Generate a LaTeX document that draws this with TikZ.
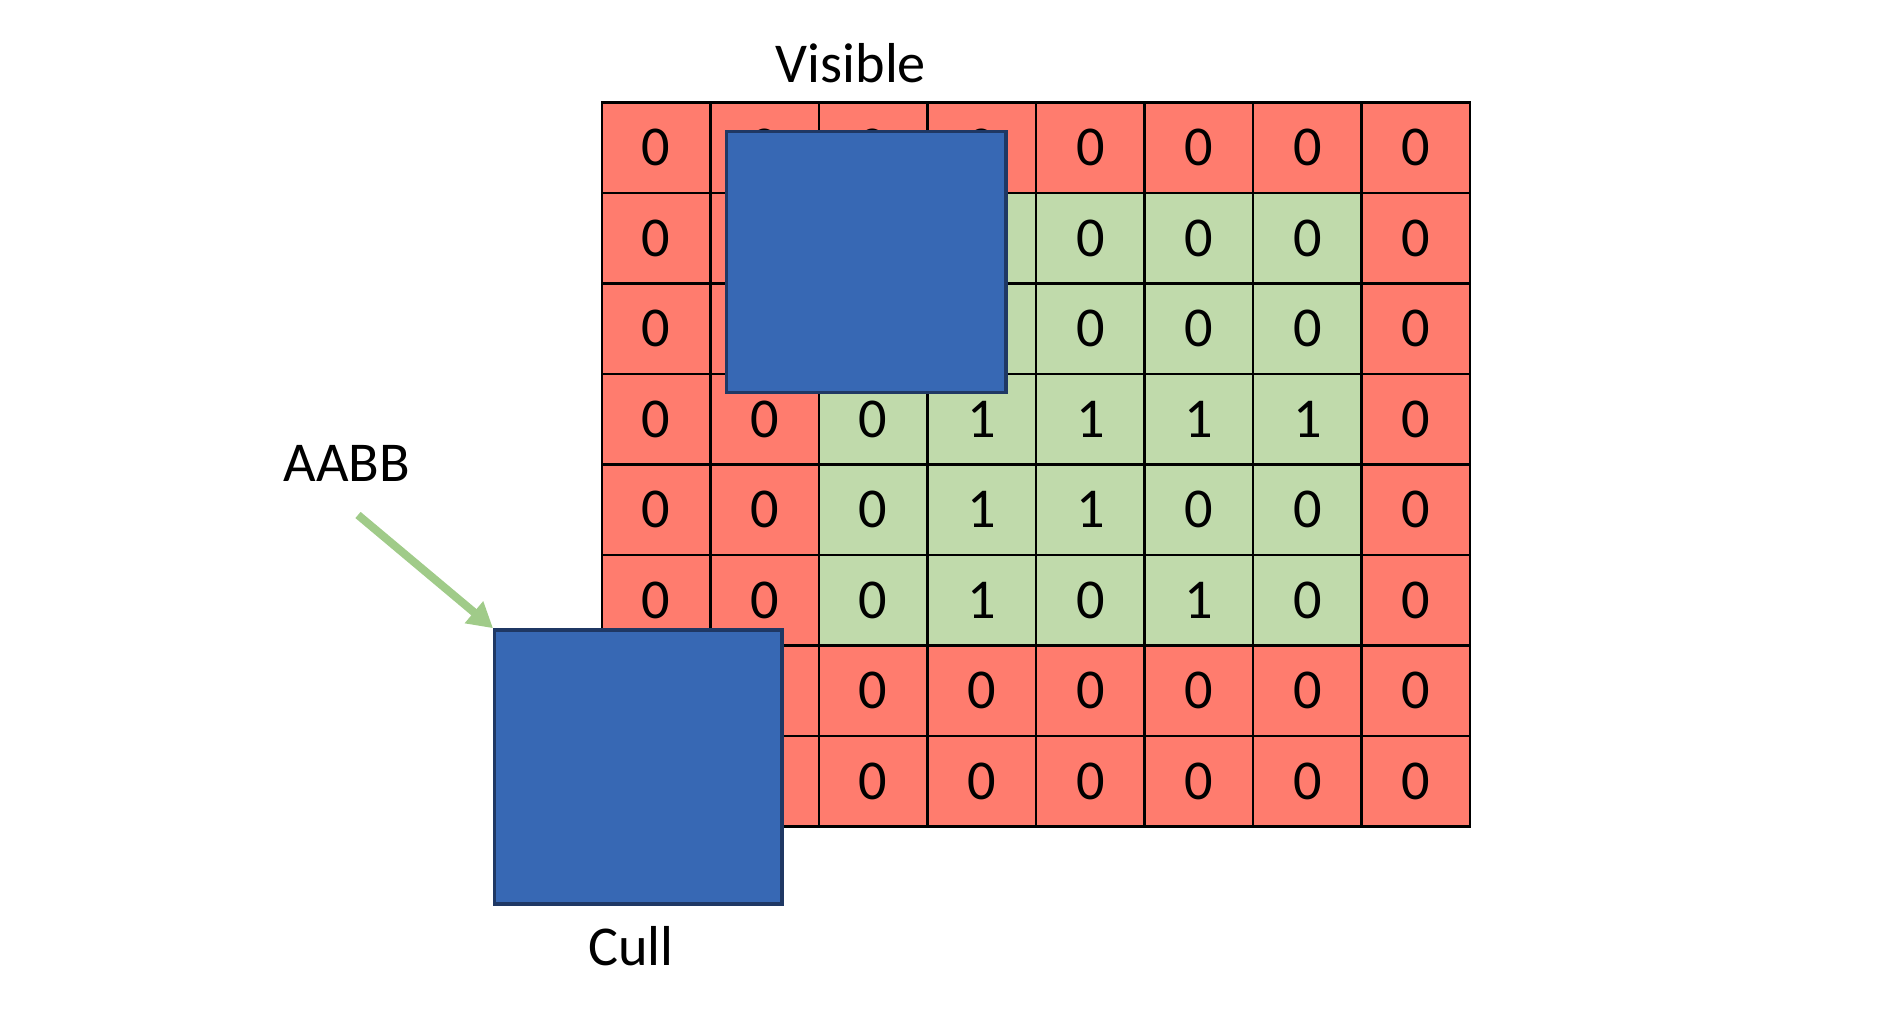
\documentclass[tikz,border=0pt]{standalone}
\usepackage{fontspec}
\setmainfont{Carlito}
\usetikzlibrary{arrows.meta}

\definecolor{cellred}{RGB}{255,124,110}
\definecolor{cellgreen}{RGB}{192,218,171}
\definecolor{boxblue}{RGB}{55,104,180}
\definecolor{boxedge}{RGB}{31,56,100}
\definecolor{arrowgreen}{RGB}{160,203,137}

\tikzset{
  cell/.style={draw=black, line width=0.8pt, inner sep=0pt,
    minimum width=1.085cm, minimum height=0.905cm},
  aabb/.style={draw=boxedge, fill=boxblue, line width=0.95pt, inner sep=0pt},
  lbl/.style={anchor=base, inner sep=0pt}
}

\begin{document}
\begin{tikzpicture}[x=0.01cm, y=-0.01cm, font=\fontsize{16}{19}\selectfont]
    \useasboundingbox (0,0) rectangle (1896,1016);

    % Grid of cells
    \foreach \r/\vals in {0/{0,0,0,0,0,0,0,0},
                          1/{0,{},{},{},0,0,0,0},
                          2/{0,{},{},{},0,0,0,0},
                          3/{0,0,0,1,1,1,1,0},
                          4/{0,0,0,1,1,0,0,0},
                          5/{0,0,0,1,0,1,0,0},
                          6/{{},{},0,0,0,0,0,0},
                          7/{{},{},0,0,0,0,0,0}}{
        \foreach \v [count=\c from 0] in \vals {
            \pgfmathtruncatemacro\ingreen{(\r>0)&&(\r<6)&&(\c>1)&&(\c<7)}
            \ifnum\ingreen=1 \def\cellcol{cellgreen}\else\def\cellcol{cellred}\fi
            \node[cell, fill=\cellcol] (c-\r-\c)
                at ({602+108.5*(\c+0.5)}, {102.5+90.5*(\r+0.5)}) {\v};
        }
    }

    % Bounding boxes
    \node[aabb, minimum width=2.79cm, minimum height=2.61cm] (visbox) at (866.4,262.2) {};
    \node[aabb, minimum width=2.87cm, minimum height=2.74cm] (cullbox) at (638.3,767) {};

    % Labels
    \node[lbl] (vislabel) at (851,83) {Visible};
    \node[lbl] (aabblabel) at (347,482) {AABB};
    \node[lbl] (culllabel) at (631,966) {Cull};

    % Pointer
    \coordinate (tail) at (358,515);
    \draw[arrowgreen, line width=2.3pt, -{Triangle[length=7.1pt, width=7.7pt]}]
        (tail) -- (cullbox.north west);
\end{tikzpicture}
\end{document}
